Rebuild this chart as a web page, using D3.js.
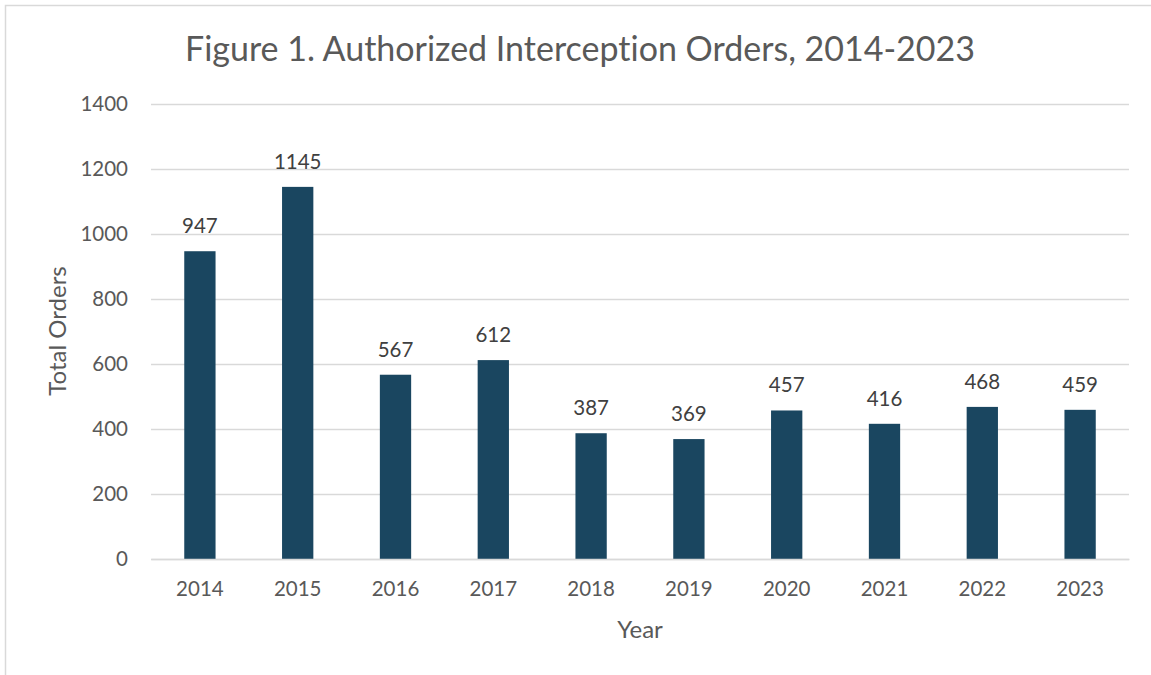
<!DOCTYPE html>
<html><head><meta charset="utf-8">
<script src="https://cdn.jsdelivr.net/npm/d3@7"></script>
<style>
html,body{margin:0;padding:0;background:#fff;}
svg text{font-family:Lato,"Open Sans",sans-serif;font-variant-ligatures:none;font-feature-settings:"liga" 0;}
</style></head>
<body><svg id="c" width="1151" height="675"></svg>
<script>
const years = ["2014","2015","2016","2017","2018","2019","2020","2021","2022","2023"];
const orders = [947,1145,567,612,387,369,457,416,468,459];
const yTicks = [0,200,400,600,800,1000,1200,1400];
const titleText = "Figure 1. Authorized Interception Orders, 2014-2023";
const xTitle = "Year";
const yTitle = "Total Orders";

const svg = d3.select("#c");
const m = {left:151, right:1129, top:104, bottom:559};
svg.append("rect").attr("x",5.5).attr("y",5.5).attr("width",1200).attr("height",700)
  .attr("fill","#fff").attr("stroke","#d9d9d9").attr("stroke-width",1.5);

const x = d3.scaleBand().domain(years).range([m.left,m.right]).paddingInner(0.68).paddingOuter(0.34);
const y = d3.scaleLinear().domain([0,1400]).range([m.bottom,m.top]);

const yAxis = d3.axisLeft(y).tickValues(yTicks).tickFormat(d3.format("d")).tickSize(-(m.right-m.left)).tickPadding(23);
const gy = svg.append("g").attr("transform",`translate(${m.left},0)`).call(yAxis);
gy.select(".domain").remove();
gy.selectAll(".tick line").attr("stroke","#d9d9d9").attr("stroke-width",1.3);
gy.selectAll(".tick text").attr("fill","#595959").style("font-size","20.5px");

svg.append("g").selectAll("rect").data(years).join("rect")
  .attr("x",d=>x(d)).attr("width",x.bandwidth())
  .attr("y",(d,i)=>y(orders[i])).attr("height",(d,i)=>y(0)-y(orders[i]))
  .attr("fill","#1a4660");

const xAxis = d3.axisBottom(x).tickSize(0).tickPadding(22);
const gx = svg.append("g").attr("transform",`translate(0,${m.bottom})`).call(xAxis);
gx.select(".domain").attr("stroke","#d9d9d9").attr("stroke-width",1.3);
gx.selectAll(".tick text").attr("fill","#595959").style("font-size","20.5px");

svg.append("g").selectAll("text").data(years).join("text")
  .attr("x",d=>x(d)+x.bandwidth()/2).attr("y",(d,i)=>y(orders[i])-18)
  .attr("text-anchor","middle").attr("fill","#404040").style("font-size","20.5px")
  .text((d,i)=>orders[i]);

svg.append("text").attr("x",580).attr("y",61).attr("text-anchor","middle")
  .attr("fill","#595959").style("font-size","34px").text(titleText);
svg.append("text").attr("x",640).attr("y",638).attr("text-anchor","middle")
  .attr("fill","#595959").style("font-size","24px").text(xTitle);
svg.append("text").attr("transform","translate(66,331) rotate(-90)").attr("text-anchor","middle")
  .attr("fill","#595959").style("font-size","24px").text(yTitle);
</script></body></html>
